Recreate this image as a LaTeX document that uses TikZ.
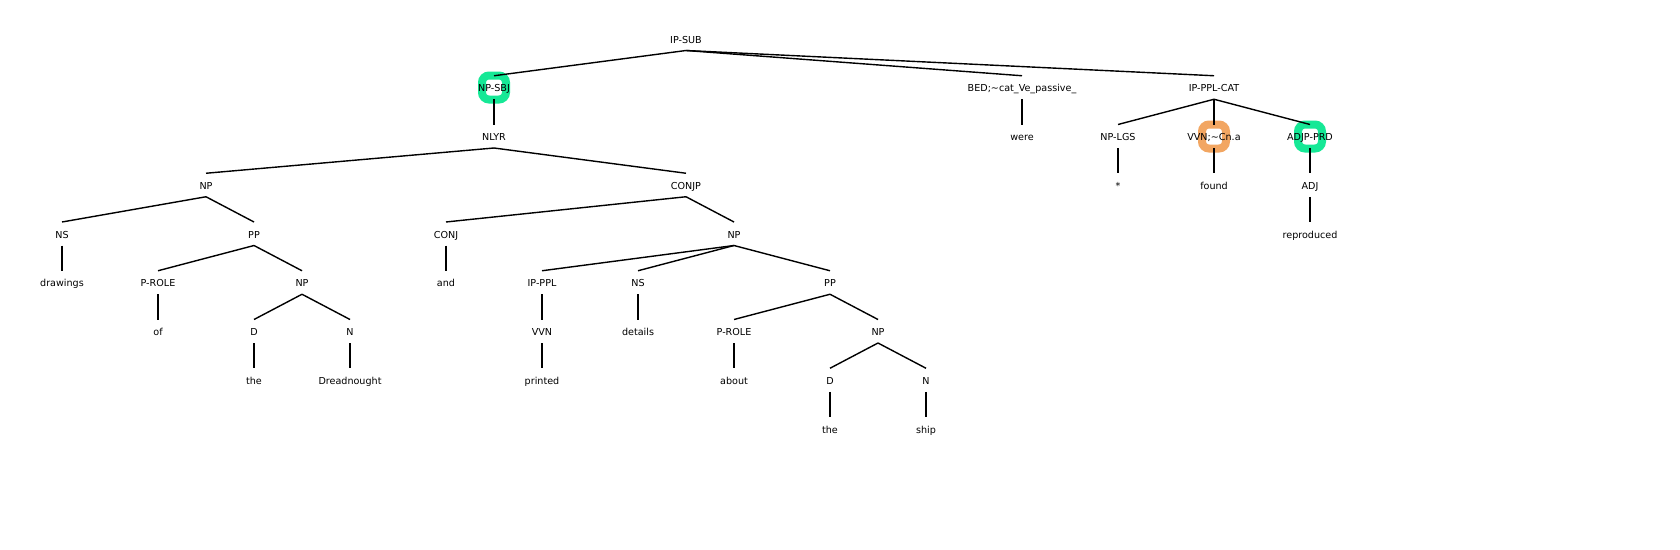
\documentclass[tikz,border=0pt]{standalone}
\usepackage{fontspec}
\setmainfont{DejaVu Sans}
\definecolor{ringgreen}{RGB}{22,232,150}
\definecolor{ringorange}{RGB}{242,166,98}
\tikzset{
  tn/.style={font=\fontsize{9.6}{11}\selectfont, inner sep=0pt, text height=7pt, text depth=0pt, anchor=center},
  edgeline/.style={draw=black, line width=1.4pt},
  ring/.style={draw=#1, line width=8pt, minimum width=24pt, minimum height=24pt, rounded corners=7pt, inner sep=0pt, anchor=center}
}
\newcommand\treeedge[2]{\draw[edgeline] ([yshift=-11pt]#1.center) -- ([yshift=12.5pt]#2.center);}
\begin{document}
\begin{tikzpicture}[x=1pt,y=-1pt]
\useasboundingbox[fill=white] (0,0) rectangle (1680,549);
% highlight rings
\node[ring=ringgreen] (ring1) at (494,87.5) {};
\node[ring=ringorange] (ring2) at (1214,136.5) {};
\node[ring=ringgreen] (ring3) at (1310,136.5) {};
% level 0
\node[tn] (ipsub) at (686,39.5) {IP-SUB};
% level 1
\node[tn] (npsbj) at (494,88.25) {NP-SBJ};
\node[tn] (bed) at (1022,88.25) {BED;\textasciitilde cat\_Ve\_passive\_};
\node[tn] (ipplcat) at (1214,88.25) {IP-PPL-CAT};
% level 2
\node[tn] (nlyr) at (494,137) {NLYR};
\node[tn] (were) at (1022,137) {were};
\node[tn] (nplgs) at (1118,137) {NP-LGS};
\node[tn] (vvncn) at (1214,137) {VVN;\textasciitilde Cn.a};
\node[tn] (adjpprd) at (1310,137) {ADJP-PRD};
% level 3
\node[tn] (np1) at (206,185.75) {NP};
\node[tn] (conjp) at (686,185.75) {CONJP};
\node[tn] (star) at (1118,185.75) {*};
\node[tn] (found) at (1214,185.75) {found};
\node[tn] (adj) at (1310,185.75) {ADJ};
% level 4
\node[tn] (ns1) at (62,234.5) {NS};
\node[tn] (pp1) at (254,234.5) {PP};
\node[tn] (conj) at (446,234.5) {CONJ};
\node[tn] (np2) at (734,234.5) {NP};
\node[tn] (reproduced) at (1310,234.5) {reproduced};
% level 5
\node[tn] (drawings) at (62,283.25) {drawings};
\node[tn] (prole1) at (158,283.25) {P-ROLE};
\node[tn] (np3) at (302,283.25) {NP};
\node[tn] (and) at (446,283.25) {and};
\node[tn] (ipppl) at (542,283.25) {IP-PPL};
\node[tn] (ns2) at (638,283.25) {NS};
\node[tn] (pp2) at (830,283.25) {PP};
% level 6
\node[tn] (of) at (158,332) {of};
\node[tn] (d1) at (254,332) {D};
\node[tn] (n1) at (350,332) {N};
\node[tn] (vvn) at (542,332) {VVN};
\node[tn] (details) at (638,332) {details};
\node[tn] (prole2) at (734,332) {P-ROLE};
\node[tn] (np4) at (878,332) {NP};
% level 7
\node[tn] (the1) at (254,380.75) {the};
\node[tn] (dread) at (350,380.75) {Dreadnought};
\node[tn] (printed) at (542,380.75) {printed};
\node[tn] (about) at (734,380.75) {about};
\node[tn] (d2) at (830,380.75) {D};
\node[tn] (n2) at (926,380.75) {N};
% level 8
\node[tn] (the2) at (830,429.5) {the};
\node[tn] (ship) at (926,429.5) {ship};
% edges
\treeedge{ipsub}{npsbj}
\treeedge{ipsub}{bed}
\treeedge{ipsub}{ipplcat}
\treeedge{npsbj}{nlyr}
\treeedge{bed}{were}
\treeedge{ipplcat}{nplgs}
\treeedge{ipplcat}{vvncn}
\treeedge{ipplcat}{adjpprd}
\treeedge{nlyr}{np1}
\treeedge{nlyr}{conjp}
\treeedge{nplgs}{star}
\treeedge{vvncn}{found}
\treeedge{adjpprd}{adj}
\treeedge{np1}{ns1}
\treeedge{np1}{pp1}
\treeedge{conjp}{conj}
\treeedge{conjp}{np2}
\treeedge{adj}{reproduced}
\treeedge{ns1}{drawings}
\treeedge{pp1}{prole1}
\treeedge{pp1}{np3}
\treeedge{conj}{and}
\treeedge{np2}{ipppl}
\treeedge{np2}{ns2}
\treeedge{np2}{pp2}
\treeedge{prole1}{of}
\treeedge{np3}{d1}
\treeedge{np3}{n1}
\treeedge{ipppl}{vvn}
\treeedge{ns2}{details}
\treeedge{pp2}{prole2}
\treeedge{pp2}{np4}
\treeedge{d1}{the1}
\treeedge{n1}{dread}
\treeedge{vvn}{printed}
\treeedge{prole2}{about}
\treeedge{np4}{d2}
\treeedge{np4}{n2}
\treeedge{d2}{the2}
\treeedge{n2}{ship}
\end{tikzpicture}
\end{document}
